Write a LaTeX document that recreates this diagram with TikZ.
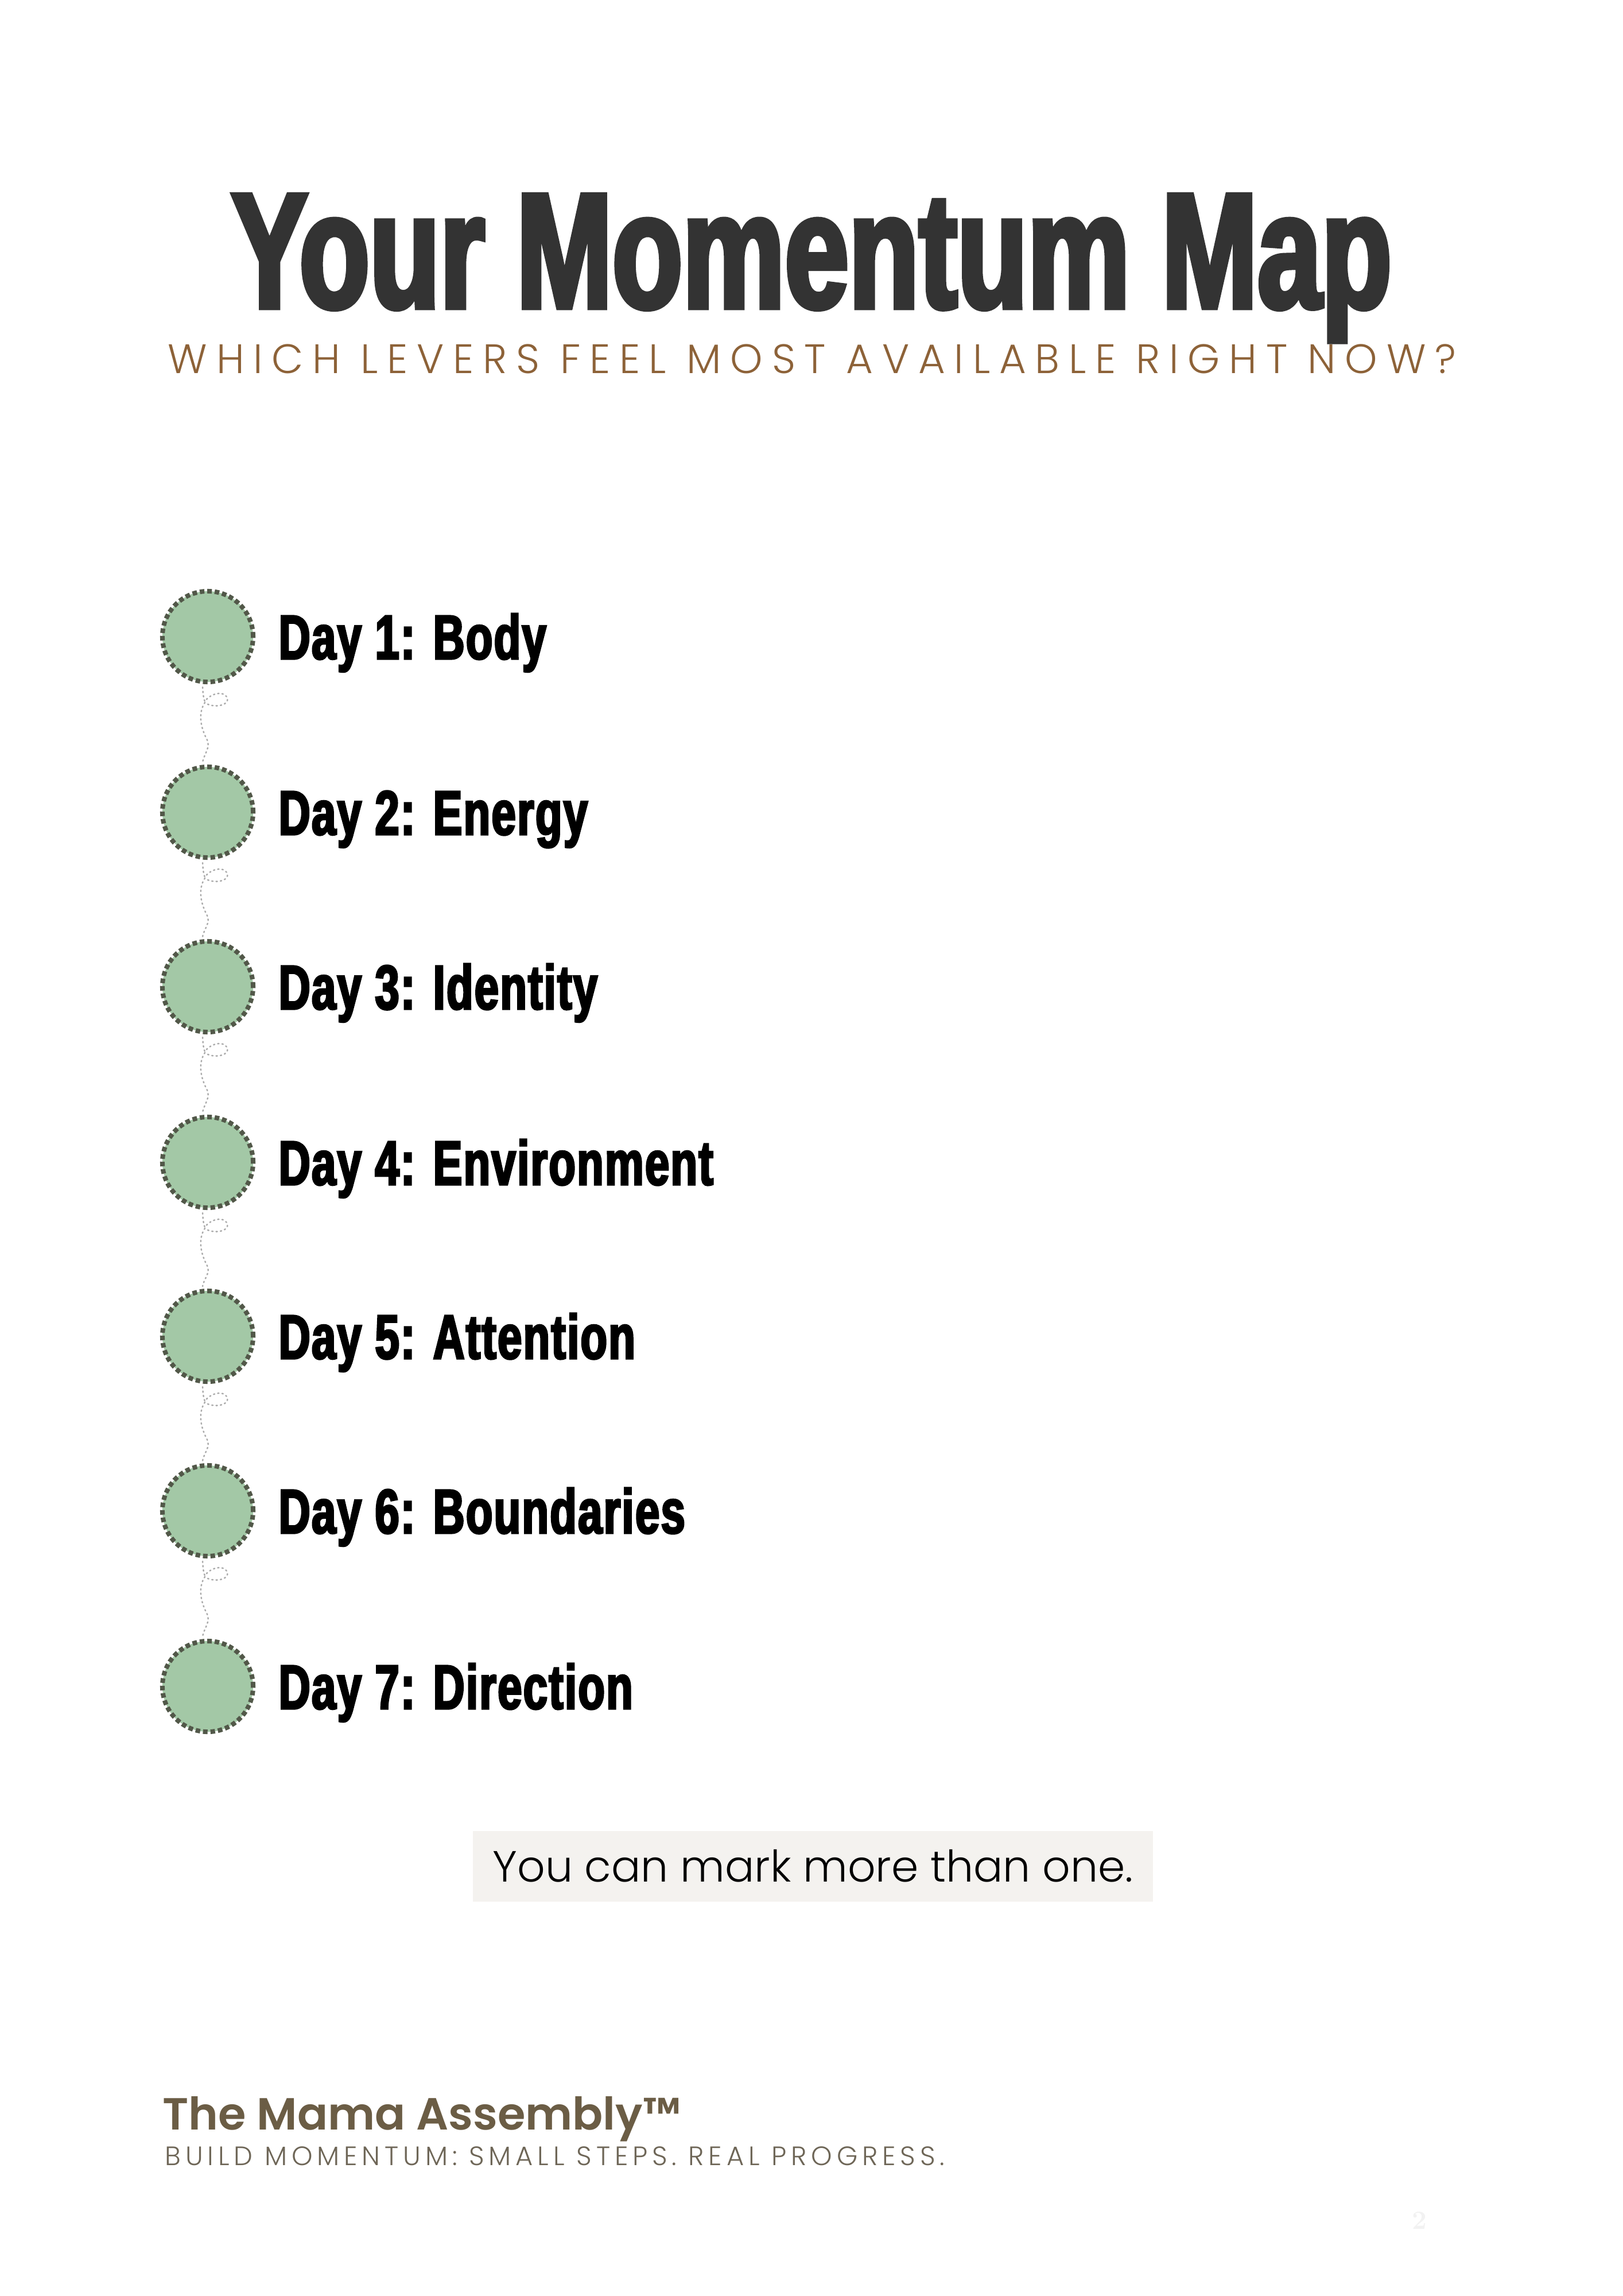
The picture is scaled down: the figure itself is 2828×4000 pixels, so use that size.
\documentclass[tikz,border=0pt]{standalone}
\usepackage{fontspec}
\usetikzlibrary{calc}
\newfontfamily\antonfont[FakeStretch=0.70,FakeBold=3]{Liberation Sans Bold}
\newfontfamily\labelfont[FakeStretch=0.70,FakeBold=3,LetterSpace=2]{Liberation Sans Bold}
\newfontfamily\popfont{Poppins Light}
\newfontfamily\popbold{Poppins SemiBold}
\newfontfamily\popspaced[LetterSpace=22]{Poppins Light}
\newfontfamily\poptag[LetterSpace=17]{Poppins Light}
\definecolor{titlegray}{HTML}{333333}
\definecolor{subbrown}{HTML}{8D6238}
\definecolor{dotfill}{HTML}{A3C8A6}
\definecolor{dotedge}{HTML}{525849}
\definecolor{conngray}{HTML}{ABABAB}
\definecolor{notebg}{HTML}{F4F2EF}
\definecolor{footbrown}{HTML}{6B5D45}
\definecolor{taggray}{HTML}{6E6657}
\definecolor{pagenum}{HTML}{F2F2F2}
\tikzset{
  daycircle/.style={circle, minimum size=1.58cm, inner sep=0pt, fill=dotfill, draw=dotedge, line width=0.8mm, dash pattern=on 0.8mm off 0.5mm},
  daylabel/.style={anchor=base west, inner sep=0pt, font=\labelfont\fontsize{31}{31}\selectfont, text=black},
  conn/.style={draw=conngray, line width=0.25mm, dash pattern=on 0.2mm off 0.55mm, line cap=round},
}
\begin{document}
\begin{tikzpicture}[x=0.01cm, y=-0.01cm]
\useasboundingbox (0,0) rectangle (2828,4000);
\fill[white] (0,0) rectangle (2828,4000);
% title
\node[anchor=base, inner sep=0pt, text=titlegray, font=\antonfont\fontsize{81.4}{81.4}\selectfont] (title) at (1414,536) {Your Momentum Map};
\node[anchor=base, inner sep=0pt, text=subbrown, font=\popspaced\fontsize{20.4}{20.4}\selectfont] (subtitle) at (1415,650) {WHICH LEVERS FEEL MOST AVAILABLE RIGHT NOW?};
% circles
\foreach \i/\y/\t in {1/1109/{Day 1: Body},2/1415/{Day 2: Energy},3/1719/{Day 3: Identity},4/2025/{Day 4: Environment},5/2328/{Day 5: Attention},6/2632/{Day 6: Boundaries},7/2938/{Day 7: Direction}}{
  \node[daycircle] (d\i) at (362,\y) {};
  \node[daylabel] (l\i) at (485,\y+39) {\t};
}
% connectors
\foreach \a/\b in {1/2,2/3,3/4,4/5,5/6,6/7}{
  \draw[conn] ($(d\a.south)+(-9,5)$) .. controls ($(d\a.south)+(-8,20)$) and ($(d\a.south)+(-7,26)$) .. ($(d\a.south)+(-5,30)$)
     .. controls ($(d\a.south)+(4,16)$) and ($(d\a.south)+(28,10)$) .. ($(d\a.south)+(34,24)$)
     .. controls ($(d\a.south)+(38,38)$) and ($(d\a.south)+(8,42)$) .. ($(d\a.south)+(-5,32)$)
     .. controls ($(d\a.south)+(-16,48)$) and ($(d\a.south)+(-14,72)$) .. ($(d\a.south)+(-2,95)$)
     .. controls ($(d\a.south)+(6,110)$) and ($(d\b.north)+(-6,-20)$) .. ($(d\b.north)+(-9,-4)$);
}
% note
\node[fill=notebg, minimum width=11.85cm, minimum height=1.23cm, inner sep=0pt] (notebox) at (1416.5,3251.5) {};
\node[anchor=base, inner sep=0pt, text=black, font=\popfont\fontsize{21.6}{21.6}\selectfont] (note) at (1416.5,3278) {You can mark more than one.};
% footer
\node[anchor=base west, inner sep=0pt, text=footbrown, font=\popbold\fontsize{22.3}{22.3}\selectfont] (brand) at (283,3710) {The Mama Assembly™};
\node[anchor=base west, inner sep=0pt, text=taggray, font=\poptag\fontsize{13.2}{13.2}\selectfont] (tag) at (287,3772) {BUILD MOMENTUM: SMALL STEPS. REAL PROGRESS.};
\node[anchor=base west, inner sep=0pt, text=pagenum, font=\bfseries\fontsize{13}{13}\selectfont] (page) at (2460,3883) {2};
\end{tikzpicture}
\end{document}
